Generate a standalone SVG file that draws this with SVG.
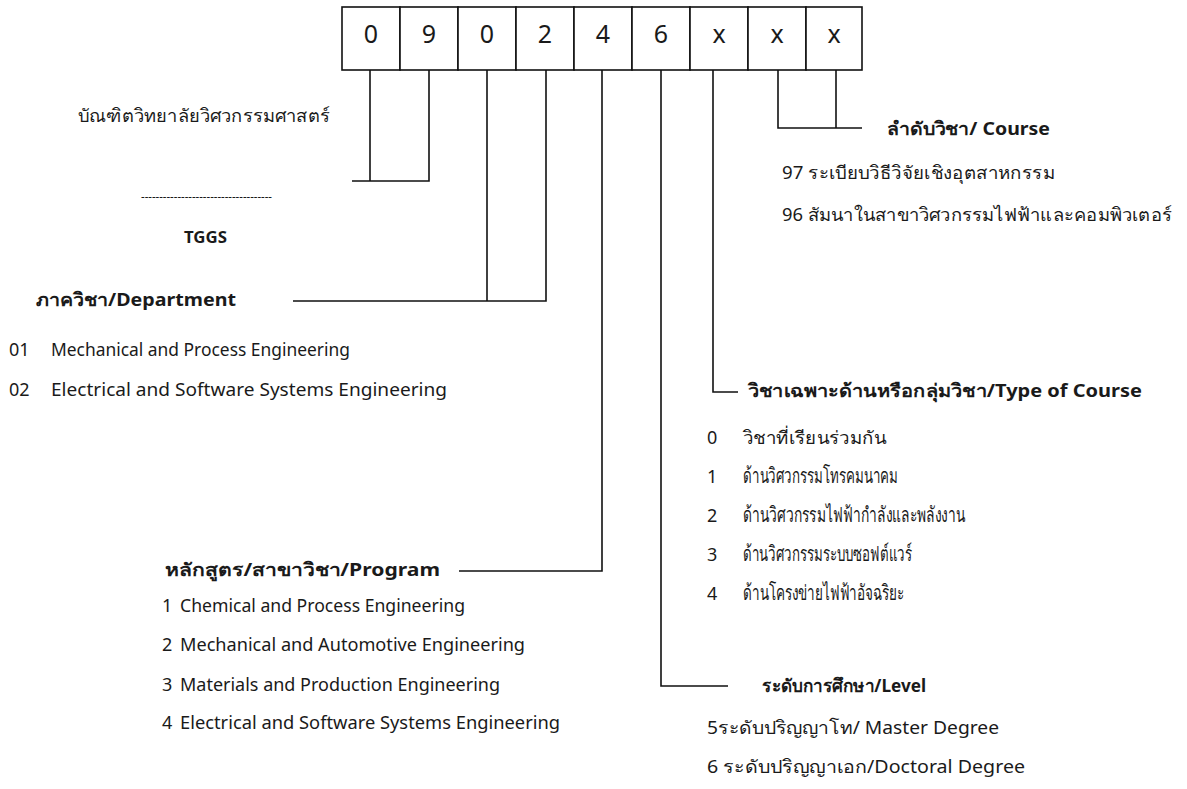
<svg xmlns="http://www.w3.org/2000/svg" width="1187" height="789" viewBox="0 0 1187 789">
  <style>
    text { font-family: "Noto Sans", "Liberation Sans", "DejaVu Sans", sans-serif; fill: #1a1a1a; }
    .digit { font-size: 25px; text-anchor: middle; }
    .body { font-size: 18px; }
    .thai { font-size: 21px; }
    .head { font-size: 18px; font-weight: bold; }
    .small { font-size: 12px; }
    .cell { fill: #fff; stroke: #111; stroke-width: 1.6; }
    .wire { fill: none; stroke: #111; stroke-width: 1.6; }
  </style>

  <!-- course code cells -->
  <g id="code-boxes">
    <rect class="cell" x="342" y="7" width="58" height="63"/>
    <rect class="cell" x="400" y="7" width="58" height="63"/>
    <rect class="cell" x="458" y="7" width="58" height="63"/>
    <rect class="cell" x="516" y="7" width="58" height="63"/>
    <rect class="cell" x="574" y="7" width="58" height="63"/>
    <rect class="cell" x="632" y="7" width="58" height="63"/>
    <rect class="cell" x="690" y="7" width="58" height="63"/>
    <rect class="cell" x="748" y="7" width="58" height="63"/>
    <rect class="cell" x="806" y="7" width="56" height="63"/>
    <text class="digit" x="371" y="43">0</text>
    <text class="digit" x="429" y="43">9</text>
    <text class="digit" x="487" y="43">0</text>
    <text class="digit" x="545" y="43">2</text>
    <text class="digit" x="603" y="43">4</text>
    <text class="digit" x="661" y="43">6</text>
    <text class="digit" x="719" y="43">x</text>
    <text class="digit" x="777" y="43">x</text>
    <text class="digit" x="834" y="43">x</text>
  </g>

  <!-- leader lines from each digit to its legend -->
  <g id="connectors">
    <polyline class="wire" points="370,70 370,181"/>
    <polyline class="wire" points="429,70 429,181 352,181"/>
    <polyline class="wire" points="487,70 487,301"/>
    <polyline class="wire" points="546,70 546,301 293,301"/>
    <polyline class="wire" points="602,70 602,571 459,571"/>
    <polyline class="wire" points="661,70 661,686 728,686"/>
    <polyline class="wire" points="713,70 713,392 738,392"/>
    <polyline class="wire" points="778,70 778,128 862,128"/>
    <polyline class="wire" points="836,70 836,128"/>
  </g>

  <g id="college">
    <text class="body" x="78" y="122" textLength="252" lengthAdjust="spacingAndGlyphs">บัณฑิตวิทยาลัยวิศวกรรมศาสตร์</text>
    <text class="small" x="141" y="201" textLength="131" lengthAdjust="spacingAndGlyphs">------------------------------------</text>
    <text x="184" y="243" font-size="16" font-weight="bold" textLength="43" lengthAdjust="spacingAndGlyphs">TGGS</text>
  </g>

  <g id="department">
    <text class="head" x="36" y="306" textLength="200" lengthAdjust="spacingAndGlyphs">ภาควิชา/Department</text>
    <text class="body" x="9" y="356">01</text>
    <text class="body" x="51" y="356" textLength="299" lengthAdjust="spacingAndGlyphs">Mechanical and Process Engineering</text>
    <text class="body" x="9" y="396">02</text>
    <text class="body" x="51" y="396" textLength="396" lengthAdjust="spacingAndGlyphs">Electrical and Software Systems Engineering</text>
  </g>

  <g id="program">
    <text class="head" x="165" y="576" textLength="275" lengthAdjust="spacingAndGlyphs">หลักสูตร/สาขาวิชา/Program</text>
    <text class="body" x="162" y="612">1</text>
    <text class="body" x="180" y="612" textLength="285" lengthAdjust="spacingAndGlyphs">Chemical and Process Engineering</text>
    <text class="body" x="162" y="651">2</text>
    <text class="body" x="180" y="651" textLength="345" lengthAdjust="spacingAndGlyphs">Mechanical and Automotive Engineering</text>
    <text class="body" x="162" y="691">3</text>
    <text class="body" x="180" y="691" textLength="320" lengthAdjust="spacingAndGlyphs">Materials and Production Engineering</text>
    <text class="body" x="162" y="729">4</text>
    <text class="body" x="180" y="729" textLength="380" lengthAdjust="spacingAndGlyphs">Electrical and Software Systems Engineering</text>
  </g>

  <g id="level">
    <text class="head" x="762" y="692" textLength="164" lengthAdjust="spacingAndGlyphs">ระดับการศึกษา/Level</text>
    <text class="body" x="707" y="734" textLength="292" lengthAdjust="spacingAndGlyphs">5ระดับปริญญาโท/  Master Degree</text>
    <text class="body" x="707" y="773" textLength="318" lengthAdjust="spacingAndGlyphs">6  ระดับปริญญาเอก/Doctoral Degree</text>
  </g>

  <g id="course-type">
    <text class="head" x="748" y="397" textLength="394" lengthAdjust="spacingAndGlyphs">วิชาเฉพาะด้านหรือกลุ่มวิชา/Type of Course</text>
    <text class="body" x="707" y="444">0</text>
    <text class="body" x="743" y="444" textLength="143" lengthAdjust="spacingAndGlyphs">วิชาที่เรียนร่วมกัน</text>
    <text class="body" x="707" y="483">1</text>
    <text class="thai" x="743" y="483" textLength="155" lengthAdjust="spacingAndGlyphs">ด้านวิศวกรรมโทรคมนาคม</text>
    <text class="body" x="707" y="522">2</text>
    <text class="thai" x="743" y="522" textLength="222" lengthAdjust="spacingAndGlyphs">ด้านวิศวกรรมไฟฟ้ากำลังและพลังงาน</text>
    <text class="body" x="707" y="561">3</text>
    <text class="thai" x="743" y="561" textLength="169" lengthAdjust="spacingAndGlyphs">ด้านวิศวกรรมระบบซอฟต์แวร์</text>
    <text class="body" x="707" y="600">4</text>
    <text class="thai" x="743" y="600" textLength="161" lengthAdjust="spacingAndGlyphs">ด้านโครงข่ายไฟฟ้าอัจฉริยะ</text>
  </g>

  <g id="course">
    <text class="head" x="887" y="135" textLength="163" lengthAdjust="spacingAndGlyphs">ลำดับวิชา/ Course</text>
    <text class="body" x="782" y="179" textLength="273" lengthAdjust="spacingAndGlyphs">97 ระเบียบวิธีวิจัยเชิงอุตสาหกรรม</text>
    <text class="body" x="782" y="221" textLength="390" lengthAdjust="spacingAndGlyphs">96 สัมนาในสาขาวิศวกรรมไฟฟ้าและคอมพิวเตอร์</text>
  </g>
</svg>
